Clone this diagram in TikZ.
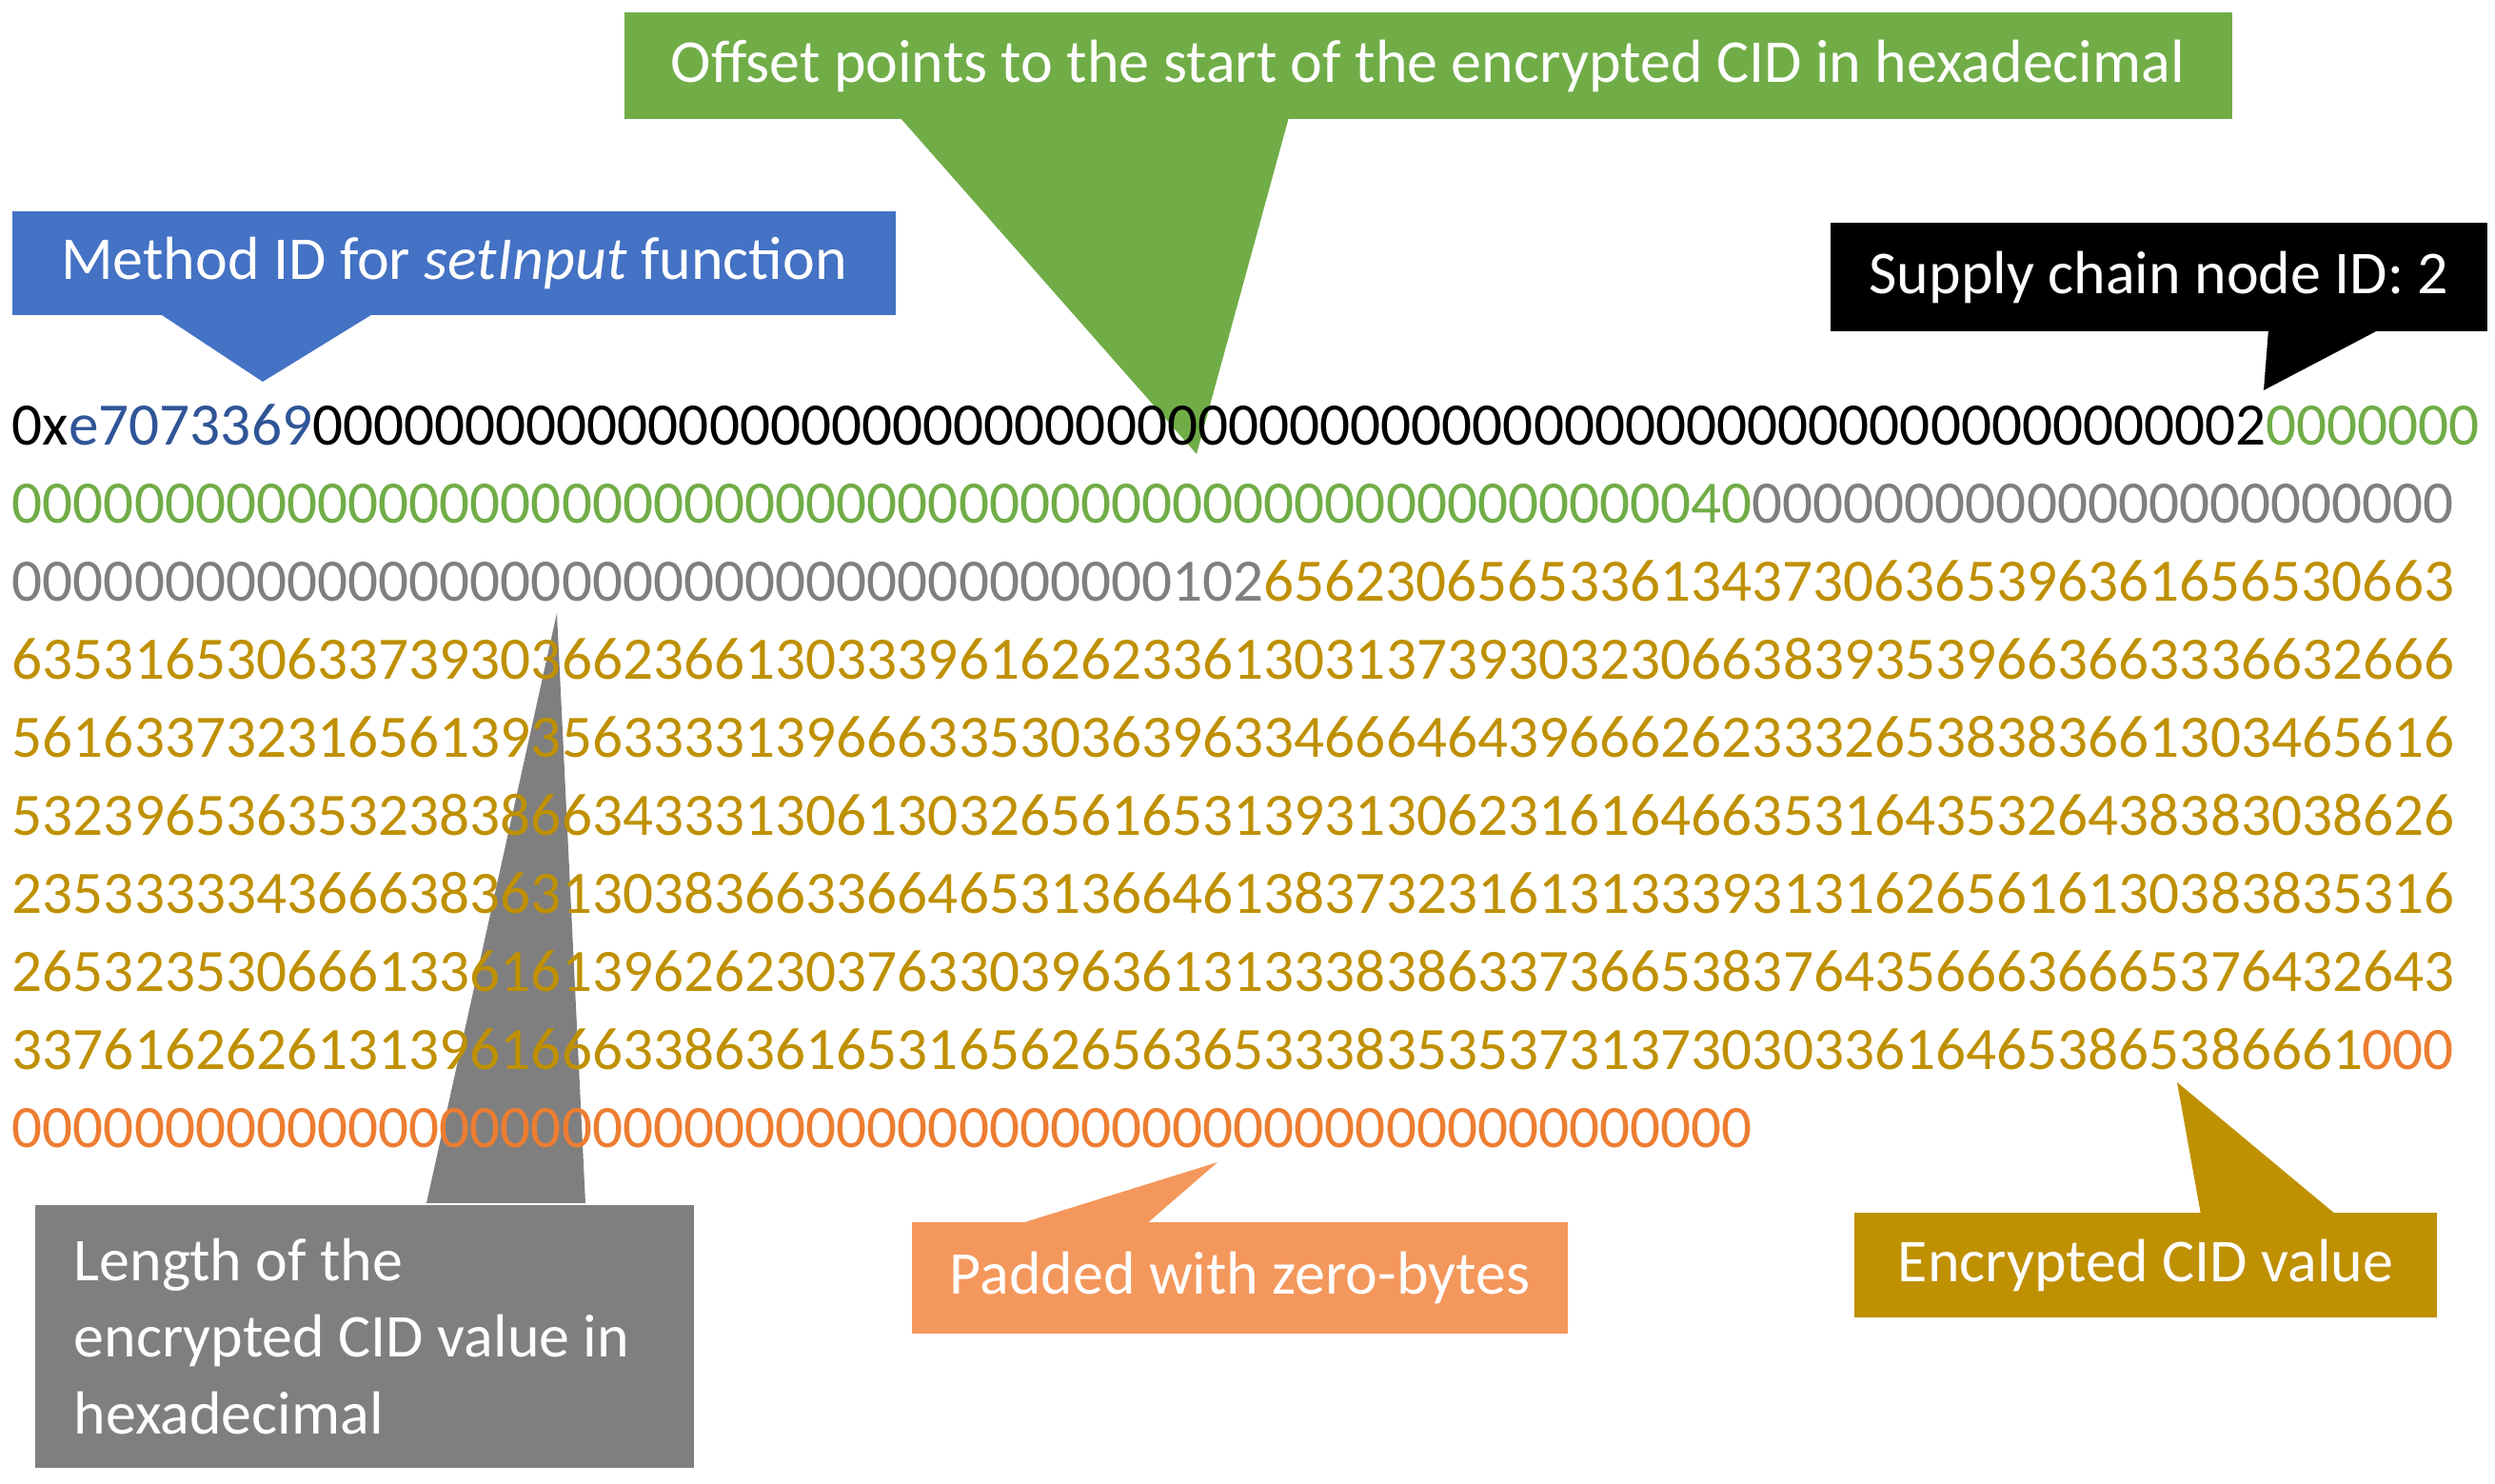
\documentclass[tikz,border=0pt]{standalone}
\usepackage{fontspec}
\setmainfont{Carlito}
\usetikzlibrary{positioning}
\definecolor{cblue}{HTML}{4472C4}
\definecolor{cblued}{HTML}{2F5597}
\definecolor{cgreen}{HTML}{70AD47}
\definecolor{cgrey}{HTML}{7F7F7F}
\definecolor{corange}{HTML}{F4975C}
\definecolor{corangetxt}{HTML}{ED7D31}
\definecolor{cgold}{HTML}{BF9000}
\tikzset{
  hexline/.style={anchor=base west,inner sep=0pt,font=\fontsize{18}{22}\selectfont},
  callout/.style={rectangle,inner sep=0pt,text=white,font=\fontsize{18.2}{23}\selectfont},
}
\begin{document}
\begin{tikzpicture}
\useasboundingbox (0,0) rectangle (26.21,15.59);
% pointers
\fill [cblue] (1.67,12.3) -- (2.76,11.58) -- (3.93,12.3) -- cycle;
\fill [cgreen] (9.45,14.36) -- (12.57,10.82) -- (13.54,14.36) -- cycle;
\fill [black] (23.83,12.13) -- (23.78,11.49) -- (25.0,12.13) -- cycle;
\fill [cgrey] (4.48,2.95) -- (5.85,9.15) -- (6.15,2.95) -- cycle;
\fill [corange] (10.70,2.73) -- (12.79,3.38) -- (12.04,2.73) -- cycle;
\fill [cgold] (23.12,2.83) -- (22.87,4.22) -- (24.54,2.83) -- cycle;
% boxes
\node [callout,fill=cblue,minimum width=9.28cm,minimum height=1.09cm] (method) at (4.77,12.825) {Method ID for \textit{setInput} function};
\node [callout,fill=cgreen,minimum width=16.89cm,minimum height=1.12cm] (offset) at (15.0,14.9) {Offset points to the start of the encrypted CID in hexadecimal};
\node [callout,fill=black,minimum width=6.9cm,minimum height=1.14cm] (supply) at (22.68,12.68) {Supply chain node ID: 2};
\node [callout,fill=cgrey,minimum width=6.92cm,minimum height=2.76cm] (length) at (3.83,1.55) {};
\node [callout,anchor=west,align=left] (lengthtxt) at (0.77,1.55) {Length of the\\encrypted CID value in\\hexadecimal};
\node [callout,fill=corange,minimum width=6.89cm,minimum height=1.17cm] (padded) at (13.025,2.165) {Padded with zero-bytes};
\node [callout,fill=cgold,minimum width=6.12cm,minimum height=1.10cm] (cid) at (22.54,2.3) {Encrypted CID value};
% hex data
\node [hexline] (l1) at (0.12,10.91) {0x\textcolor{cblued}{e7073369}0000000000000000000000000000000000000000000000000000000000000002\textcolor{cgreen}{0000000}};
\node [hexline,text=cgreen] (l2) at (0.12,10.09) {000000000000000000000000000000000000000000000000000000040\textcolor{cgrey}{00000000000000000000000}};
\node [hexline,text=cgrey] (l3) at (0.12,9.27) {00000000000000000000000000000000000000102\textcolor{cgold}{656230656533613437306365396361656530663}};
\node [hexline,text=cgold] (l4) at (0.12,8.45) {63531653063373930366236613033396162623361303137393032306638393539663663336632666};
\node [hexline,text=cgold] (l5) at (0.12,7.63) {56163373231656139356333313966633530363963346664643966626233326538383661303465616};
\node [hexline,text=cgold] (l6) at (0.12,6.81) {53239653635323838663433313061303265616531393130623161646635316435326438383038626};
\node [hexline,text=cgold] (l7) at (0.12,5.99) {23533333436663836313038366336646531366461383732316131333931316265616130383835316};
\node [hexline,text=cgold] (l8) at (0.12,5.17) {26532353066613361613962623037633039636131333838633736653837643566636665376432643};
\node [hexline,text=cgold] (l9) at (0.12,4.35) {33761626261313961666338636165316562656365333835353731373030336164653865386661\textcolor{corangetxt}{000}};
\node [hexline,text=corangetxt] (l10) at (0.12,3.53) {000000000000000000000000000000000000000000000000000000000};
\end{tikzpicture}
\end{document}
